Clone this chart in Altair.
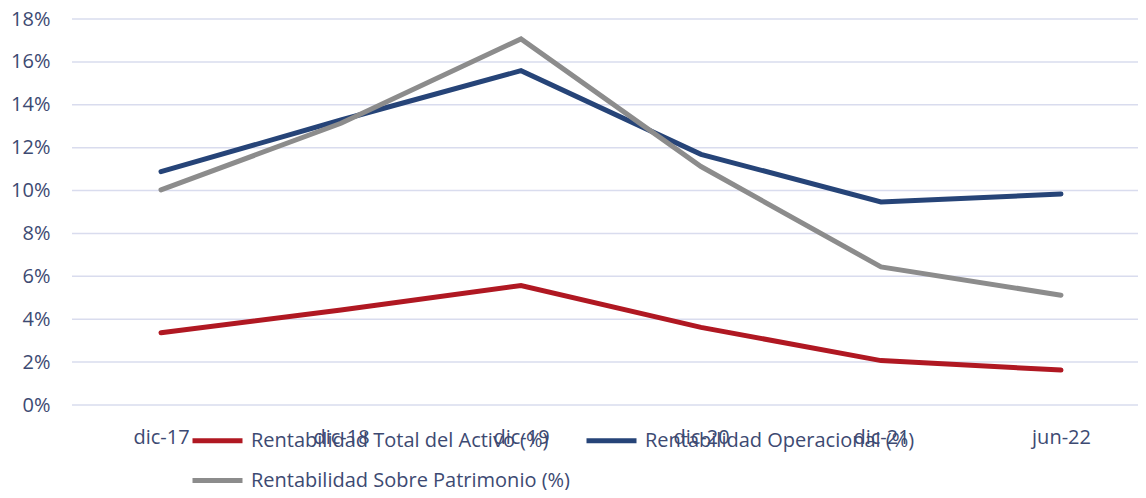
import altair as alt
import pandas as pd

categories = ["dic-17", "dic-18", "dic-19", "dic-20", "dic-21", "jun-22"]
series_names = [
    "Rentabilidad Total del Activo (%)",
    "Rentabilidad Operacional (%)",
    "Rentabilidad Sobre Patrimonio (%)",
]
activo = [3.37, 4.43, 5.57, 3.62, 2.07, 1.63]
operacional = [10.88, 13.29, 15.59, 11.69, 9.47, 9.84]
patrimonio = [10.03, 13.14, 17.07, 11.12, 6.44, 5.12]
colors = ["#B01822", "#264478", "#8C8C8C"]
y_ticks = [0, 2, 4, 6, 8, 10, 12, 14, 16, 18]

rows = []
for name, vals in zip(series_names, [activo, operacional, patrimonio]):
    for i, (c, v) in enumerate(zip(categories, vals)):
        rows.append({"idx": i, "periodo": c, "serie": name, "valor": v})
df = pd.DataFrame(rows)
grid_df = pd.DataFrame({"v": y_ticks})

TEXT = "#3D4A72"
FONT = "Open Sans"
FS = 20
W, H = 1066, 386
first_px, step_px = 89, 180
x_domain = [-first_px / step_px, (W - first_px) / step_px]
label_array = "[" + ",".join("'" + c + "'" for c in categories) + "]"

grid = (
    alt.Chart(grid_df)
    .mark_rule(color="#D9DCEE", strokeWidth=1.5)
    .encode(y=alt.Y("v:Q", scale=alt.Scale(domain=[0, 18], nice=False)))
)

lines = (
    alt.Chart(df)
    .mark_line(strokeWidth=5, strokeCap="round")
    .encode(
        x=alt.X(
            "idx:Q",
            scale=alt.Scale(domain=x_domain, nice=False, zero=False),
            axis=alt.Axis(
                title=None, values=list(range(len(categories))),
                labelExpr=label_array + "[datum.value]",
                labelAngle=0, ticks=False, tickSize=0, domain=False,
                grid=False, labelPadding=22, labelFontSize=FS, labelColor=TEXT,
                labelFont=FONT, labelFlush=False, labelOverlap=False,
            ),
        ),
        y=alt.Y(
            "valor:Q",
            scale=alt.Scale(domain=[0, 18], nice=False),
            axis=alt.Axis(
                title=None, values=y_ticks, labelExpr="datum.value + '%'",
                ticks=False, tickSize=0, domain=False, grid=False,
                labelPadding=22, labelFontSize=FS, labelColor=TEXT,
                labelFont=FONT,
            ),
        ),
        color=alt.Color(
            "serie:N",
            sort=series_names,
            scale=alt.Scale(domain=series_names, range=colors),
            legend=alt.Legend(
                title=None, orient="none", legendX=118, legendY=394,
                direction="horizontal", columns=2, symbolType="stroke",
                symbolSize=2500, symbolStrokeWidth=5, labelOffset=6,
                columnPadding=6, rowPadding=2, labelFontSize=FS,
                labelColor=TEXT, labelFont=FONT, padding=0, labelLimit=500,
            ),
        ),
    )
)

chart = (
    alt.layer(grid, lines)
    .properties(
        width=W, height=H,
        autosize=alt.AutoSizeParams(type="none"),
        padding={"left": 64, "top": 11, "right": 0, "bottom": 85},
    )
    .configure_view(stroke=None)
)

chart.save("out.html", embed_options={"renderer": "svg", "actions": False})
